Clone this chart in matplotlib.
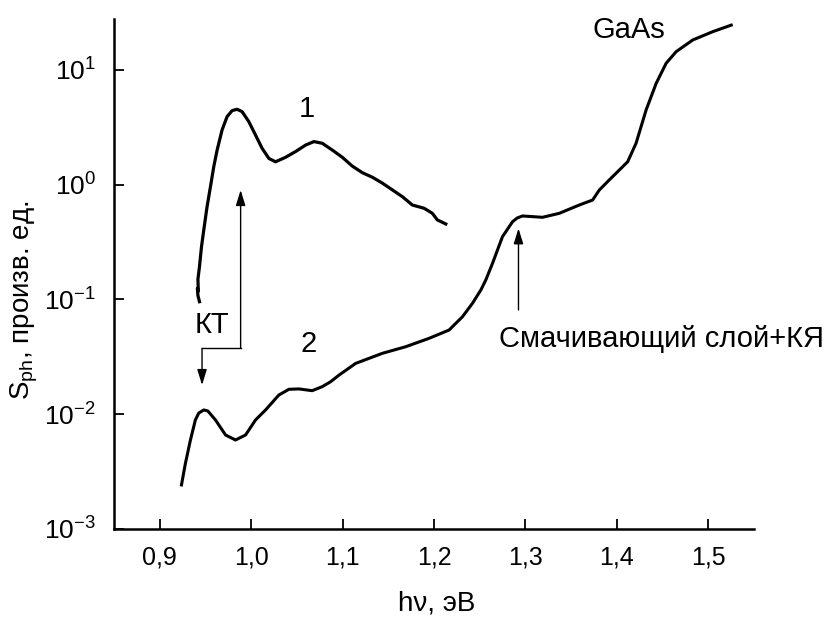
import matplotlib
matplotlib.use("Agg")
import matplotlib.pyplot as plt
from matplotlib.ticker import FixedLocator, FixedFormatter, NullLocator

plt.rcParams["font.family"] = ["Liberation Sans", "DejaVu Sans"]
plt.rcParams["mathtext.fontset"] = "custom"
plt.rcParams["mathtext.rm"] = "Liberation Sans"
plt.rcParams["mathtext.it"] = "Liberation Sans:italic"
plt.rcParams["mathtext.bf"] = "Liberation Sans:bold"

# Photosensitivity spectrum 1 (QD sample)
energy_1 = [0.9435, 0.9418, 0.9412, 0.9422, 0.9418, 0.9435, 0.9457, 0.9482, 0.9518,
            0.9555, 0.9591, 0.9628, 0.9682, 0.9737, 0.9792, 0.9847, 0.9901, 0.9975,
            1.0048, 1.0120, 1.0194, 1.0267, 1.0377, 1.0486, 1.0596, 1.0687, 1.0778,
            1.0887, 1.0997, 1.1106, 1.1216, 1.1325, 1.1435, 1.1544, 1.1654, 1.1763,
            1.1892, 1.1982, 1.2037, 1.2129]
signal_1 = [0.0955, 0.108, 0.125, 0.118, 0.150, 0.193, 0.288, 0.403, 0.643,
            0.959, 1.43, 2.00, 2.99, 3.91, 4.41, 4.53, 4.32, 3.53,
            2.70, 2.07, 1.69, 1.58, 1.73, 1.94, 2.21, 2.37, 2.29,
            2.00, 1.73, 1.45, 1.27, 1.16, 1.03, 0.90, 0.785, 0.664,
            0.622, 0.562, 0.492, 0.454]

# Photosensitivity spectrum 2 (QD + wetting layer + GaAs edge)
energy_2 = [0.9238, 0.9281, 0.9336, 0.9390, 0.9427, 0.9482, 0.9526, 0.9610, 0.9720,
            0.9829, 0.9939, 1.0048, 1.0158, 1.0303, 1.0413, 1.0522, 1.0668, 1.0778,
            1.0870, 1.0961, 1.1143, 1.1435, 1.1690, 1.1946, 1.2165, 1.2311, 1.2421,
            1.2513, 1.2567, 1.2640, 1.2694, 1.2749, 1.2859, 1.2910, 1.2968, 1.3078,
            1.3187, 1.3370, 1.3589, 1.3735, 1.3808, 1.3918, 1.4118, 1.4210, 1.4320,
            1.4430, 1.4539, 1.4649, 1.4831, 1.5050, 1.5251]
signal_2 = [0.00242, 0.00373, 0.00596, 0.00891, 0.01023, 0.01089, 0.01067, 0.00891, 0.00659,
            0.00596, 0.00659, 0.00891, 0.01089, 0.01469, 0.01648, 0.0166, 0.01603, 0.01738,
            0.0192, 0.0219, 0.0277, 0.0339, 0.0387, 0.0458, 0.0541, 0.0706, 0.0925,
            0.121, 0.148, 0.206, 0.269, 0.352, 0.475, 0.512, 0.533, 0.526,
            0.519, 0.562, 0.664, 0.734, 0.897, 1.10, 1.58, 2.29, 4.47,
            7.62, 11.4, 14.4, 18.2, 21.5, 24.5]

x_ticks = [0.9, 1.0, 1.1, 1.2, 1.3, 1.4, 1.5]
x_tick_labels = ["0,9", "1,0", "1,1", "1,2", "1,3", "1,4", "1,5"]
y_ticks = [1e-3, 1e-2, 1e-1, 1e0, 1e1]
y_tick_labels = [r"$\mathdefault{10^{-3}}$", r"$\mathdefault{10^{-2}}$",
                 r"$\mathdefault{10^{-1}}$", r"$\mathdefault{10^{0}}$",
                 r"$\mathdefault{10^{1}}$"]

W, H = 830, 617
fig = plt.figure(figsize=(W / 100, H / 100), dpi=100)
ax = fig.add_axes([114 / W, 1 - 529 / H, 640 / W, 510 / H])

ax.plot(energy_1, signal_1, color="black", lw=2.3, solid_joinstyle="round")
ax.plot(energy_2, signal_2, color="black", lw=2.2, solid_joinstyle="round")

ax.set_yscale("log")
ax.set_xlim(0.85, 1.55)
ax.set_ylim(1e-3, 27.7)

ax.xaxis.set_major_locator(FixedLocator(x_ticks))
ax.xaxis.set_major_formatter(FixedFormatter(x_tick_labels))
ax.xaxis.set_minor_locator(NullLocator())
ax.yaxis.set_major_locator(FixedLocator(y_ticks))
ax.yaxis.set_major_formatter(FixedFormatter(y_tick_labels))
ax.yaxis.set_minor_locator(NullLocator())

for side in ("top", "right"):
    ax.spines[side].set_visible(False)
for side in ("left", "bottom"):
    ax.spines[side].set_linewidth(1.8)

ax.tick_params(axis="both", which="major", direction="in", length=7.2, width=1.3)
ax.tick_params(axis="x", labelsize=18, pad=12)
ax.tick_params(axis="y", labelsize=19, pad=13)

fig.text(437 / W, 1 - 610 / H, "h\u03bd, эВ", fontsize=20, ha="center", va="baseline")
fig.text(24 / W, 1 - 300 / H, r"S$_{\mathregular{ph}}$, произв. ед.", fontsize=20,
         rotation=90, ha="center", va="center")

txt = dict(fontsize=21, color="black", va="baseline")
ax.text(1.061, 3.90, "1", ha="center", **txt)
ax.text(1.0632, 0.0350, "2", ha="center", **txt)
ax.text(0.9383, 0.0507, "КТ", ha="left", **txt)
ax.text(1.3735, 18.8, "GaAs", ha="left", **txt)
ax.text(1.2713, 0.0387, "Смачивающий слой+КЯ", ha="left", **txt)

arrow = dict(arrowstyle="-|>,head_length=0.94,head_width=0.29", mutation_scale=10,
             lw=1.0, color="black", shrinkA=0, shrinkB=0)
ax.plot([0.9463, 0.9885], [0.0375, 0.0375], color="black", lw=1.0)
ax.annotate("", xy=(0.9463, 0.01795), xytext=(0.9463, 0.0375), arrowprops=arrow)
ax.annotate("", xy=(0.9885, 0.897), xytext=(0.9885, 0.0375), arrowprops=arrow)
ax.annotate("", xy=(1.2924, 0.416), xytext=(1.2924, 0.0809), arrowprops=arrow)

fig.savefig("out.png", dpi=100)
